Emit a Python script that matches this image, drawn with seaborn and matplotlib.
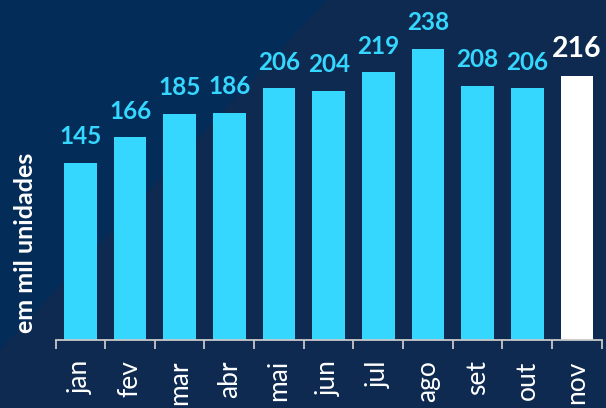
import matplotlib
matplotlib.use("Agg")
import matplotlib.pyplot as plt
from matplotlib.patches import Polygon
import seaborn as sns
import pandas as pd

# monthly values (thousand units)
months = ["jan", "fev", "mar", "abr", "mai", "jun", "jul", "ago", "set", "out", "nov"]
values = [145, 166, 185, 186, 206, 204, 219, 238, 208, 206, 216]

CYAN = "#35D7FF"
BG = "#0E2A51"
BG_DARK = "#032C58"

sns.set_style("white")
plt.rcParams["font.family"] = ["Lato", "DejaVu Sans"]

df = pd.DataFrame({"mes": months, "valor": values})
bar_colors = [CYAN] * (len(months) - 1) + ["#FFFFFF"]

fig = plt.figure(figsize=(6.06, 4.08), dpi=100, facecolor=BG)
# darker triangle in the upper-left corner of the background
fig.patches.append(Polygon([(0, 1), (327 / 606, 1), (0, 1 - 350 / 408)],
                           closed=True, transform=fig.transFigure,
                           facecolor=BG_DARK, edgecolor="none", zorder=-5))

ax = fig.add_axes([55.5 / 606, 68 / 408, 546.3 / 606, 340 / 408])
ax.set_facecolor("none")
ax.set_zorder(2)

sns.barplot(data=df, x="mes", y="valor", hue="mes", palette=bar_colors,
            width=0.66, saturation=1, legend=False, linewidth=0, ax=ax)

ax.set_xlim(-0.5, len(months) - 0.5)
ax.set_ylim(0, 278)

# value labels
for i, v in enumerate(values):
    last = i == len(values) - 1
    ax.annotate(str(v), (i, v), xytext=(0, 13.3), textcoords="offset points",
                ha="center", va="baseline", fontweight="bold",
                fontsize=20.5 if last else 17.5,
                color="#FFFFFF" if last else CYAN)

for s in ["top", "left", "right"]:
    ax.spines[s].set_visible(False)
ax.spines["bottom"].set_color("#C8C8C8")
ax.spines["bottom"].set_linewidth(1.3)

ax.set_yticks([])
ax.set_xticks(range(len(months)))
ax.set_xticklabels(months, rotation=90, ha="center", va="top",
                   fontsize=19, color="white")
ax.set_xticks([x - 0.5 for x in range(len(months) + 1)], minor=True)
ax.tick_params(axis="x", which="major", length=0, pad=14.5)
ax.tick_params(axis="x", which="minor", length=6.5, width=1.3,
               color="#C8C8C8", direction="out", bottom=True)

ax.set_xlabel("")
ax.set_ylabel("em mil unidades", fontsize=18, fontweight="bold", color="white")
ax.yaxis.set_label_coords(-0.034, 0.285)

fig.savefig("out.png", dpi=100, facecolor=BG)
